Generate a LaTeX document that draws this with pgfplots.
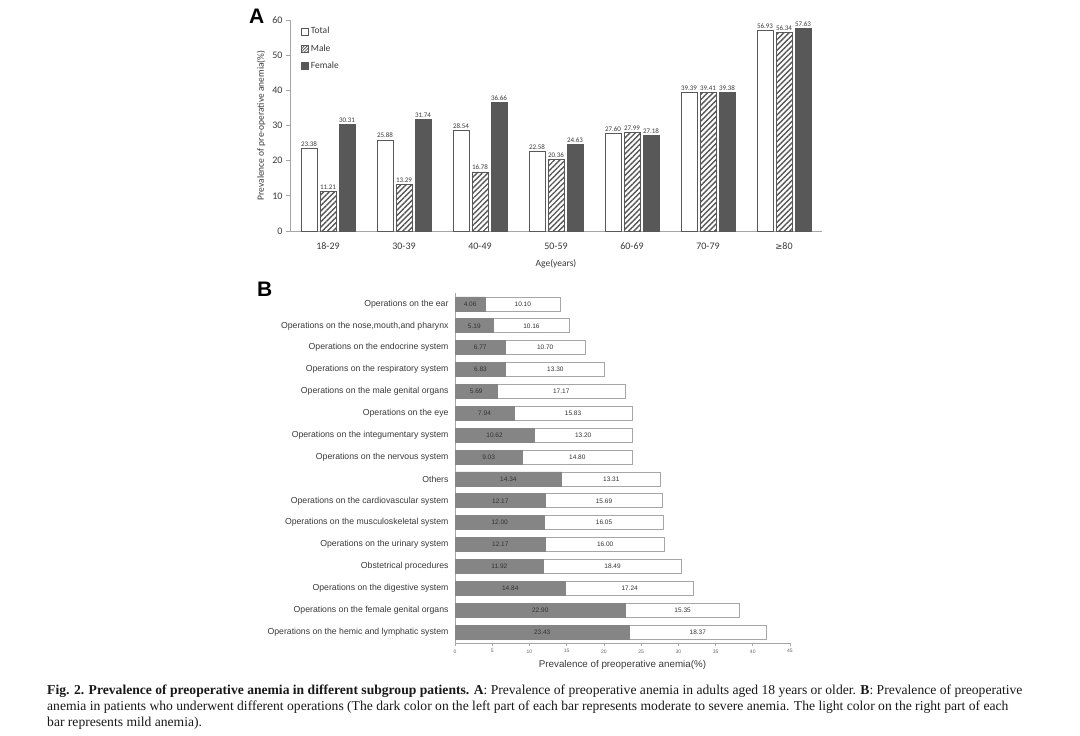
\documentclass[border=0pt]{standalone}
\usepackage{pgfplots}
\pgfplotsset{compat=1.18}
\usepackage{pgfplotstable}
\usetikzlibrary{patterns,patterns.meta}
\usepackage{fontspec}
\setmainfont{Liberation Sans}
\newfontfamily\carl{Carlito}
\newfontfamily\arialf{Liberation Sans}
\newfontfamily\dejavu{DejaVu Sans}
\newfontfamily\capfont{Liberation Serif}

\definecolor{dkA}{HTML}{585858}
\definecolor{dkB}{HTML}{858585}
\definecolor{axg}{HTML}{A6A6A6}
\definecolor{txt}{HTML}{3A3A3A}

\pgfplotstableread{
x total male female
0 23.38 11.21 30.31
1 25.88 13.29 31.74
2 28.54 16.78 36.66
3 22.58 20.36 24.63
4 27.60 27.99 27.18
5 39.39 39.41 39.38
6 56.93 56.34 57.63
}\dataA

\pgfplotstableread{
y d l
15 4.06 10.10
14 5.19 10.16
13 6.77 10.70
12 6.83 13.30
11 5.69 17.17
10 7.94 15.83
9 10.62 13.20
8 9.03 14.80
7 14.34 13.31
6 12.17 15.69
5 12.00 16.05
4 12.17 16.00
3 11.92 18.49
2 14.84 17.24
1 22.90 15.35
0 23.43 18.37
}\dataB

\begin{document}
\begin{tikzpicture}
\fill[white] (0,0) rectangle (1080pt,736pt);
\path[use as bounding box] (0,0) rectangle (1080pt,736pt);

% ---------------- Panel A ----------------
\begin{axis}[
  at={(290pt,505pt)}, anchor=south west,
  scale only axis, width=532pt, height=211pt,
  xmin=-0.5, xmax=6.5, ymin=0, ymax=60,
  ybar=3pt, bar width=16pt,
  axis x line*=bottom, axis y line*=left,
  axis line style={axg, line width=0.8pt},
  xtick={0,...,6},
  xticklabels={18-29,30-39,40-49,50-59,60-69,70-79,{{\dejavu\fontsize{8.5}{10}\selectfont ≥}80}},
  xtick style={draw=none},
  ytick={0,10,...,60},
  ytick style={axg, line width=0.8pt},
  tick align=outside, major tick length=4pt,
  /pgf/number format/assume math mode=true,
  ticklabel style={font=\carl\fontsize{10}{12}\selectfont, text=txt},
  xticklabel style={yshift=-4pt},
  xlabel={Age(years)},
  xlabel style={font=\carl\fontsize{9.5}{11}\selectfont, text=txt, yshift=-3pt},
  ylabel={Prevalence of pre-operative anemia(\%)},
  ylabel style={font=\carl\fontsize{9.5}{11}\selectfont, text=txt},
  nodes near coords={\pgfmathprintnumber[fixed,fixed zerofill,precision=2]{\pgfplotspointmeta}},
  every node near coord/.append style={font=\carl\fontsize{7}{8}\selectfont, text=txt, inner sep=1.5pt},
  legend style={draw=none, fill=none, at={(0.015,0.985)}, anchor=north west,
    font=\carl\fontsize{9.5}{11}\selectfont, text=txt, row sep=5pt,
    cells={anchor=west}},
  clip=false,
]
\addplot[fill=white, draw=dkA, line width=0.9pt,
  legend image code/.code={\draw[fill=white, draw=dkA, line width=0.7pt] (0pt,-3.5pt) rectangle (7pt,3.5pt);}]
  table[x=x, y=total]{\dataA};
\addplot[pattern={Lines[angle=45,distance=3.8pt,line width=1.4pt]}, pattern color=dkA, draw=dkA, line width=0.9pt,
  legend image code/.code={\draw[pattern={Lines[angle=45,distance=2.2pt,line width=0.8pt]}, pattern color=dkA, draw=dkA, line width=0.7pt] (0pt,-3.5pt) rectangle (7pt,3.5pt);}]
  table[x=x, y=male]{\dataA};
\addplot[fill=dkA, draw=dkA, line width=0.9pt,
  legend image code/.code={\draw[fill=dkA, draw=dkA, line width=0.7pt] (0pt,-3.5pt) rectangle (7pt,3.5pt);}]
  table[x=x, y=female]{\dataA};
\legend{Total,Male,Female}
\end{axis}

% ---------------- Panel B ----------------
\begin{axis}[
  at={(455pt,93pt)}, anchor=south west,
  scale only axis, width=335pt, height=350pt,
  xmin=0, xmax=45, ymin=-0.5, ymax=15.5,
  axis x line*=bottom, axis y line*=left,
  axis line style={axg, line width=0.8pt},
  xtick={0,5,...,45},
  xtick style={axg, line width=0.6pt},
  tick align=outside, major tick length=3pt,
  /pgf/number format/assume math mode=true,
  xticklabel style={font=\arialf\fontsize{5}{6}\selectfont, text=black!60},
  ytick={0,...,15},
  yticklabels={
    Operations on the hemic and lymphatic system,
    Operations on the female genital organs,
    Operations on the digestive system,
    Obstetrical procedures,
    Operations on the urinary system,
    Operations on the musculoskeletal system,
    Operations on the cardiovascular system,
    Others,
    Operations on the nervous system,
    Operations on the integumentary system,
    Operations on the eye,
    Operations on the male genital organs,
    Operations on the respiratory system,
    Operations on the endocrine system,
    {Operations on the nose,mouth,and pharynx},
    Operations on the ear},
  ytick style={draw=none},
  yticklabel style={font=\arialf\fontsize{8.7}{10}\selectfont, text=txt},
  xlabel={Prevalence of preoperative anemia(\%)},
  xlabel style={font=\arialf\fontsize{9.8}{11}\selectfont, text=txt},
  clip=false,
]
\addplot[xbar, bar width=14pt, bar shift=0pt, fill=white, draw=axg, line width=0.8pt]
  table[x expr=\thisrow{d}+\thisrow{l}, y=y]{\dataB};
\addplot[xbar, bar width=14pt, bar shift=0pt, fill=dkB, draw=dkB, line width=0.8pt]
  table[x=d, y=y]{\dataB};
\addplot[draw=none, mark=none, nodes near coords, point meta=explicit symbolic,
  every node near coord/.style={anchor=center, font=\arialf\fontsize{6.5}{7}\selectfont, text=black!80}]
  table[x expr=\thisrow{d}/2, y=y, meta=d]{\dataB};
\addplot[draw=none, mark=none, nodes near coords, point meta=explicit symbolic,
  every node near coord/.style={anchor=center, font=\arialf\fontsize{6.5}{7}\selectfont, text=black!80}]
  table[x expr=\thisrow{d}+\thisrow{l}/2, y=y, meta=l]{\dataB};
\end{axis}

% panel letters
\node[anchor=base west, inner sep=0, font=\arialf\bfseries\fontsize{21}{24}\selectfont] at (249pt,712pt) {A};
\node[anchor=base west, inner sep=0, font=\arialf\bfseries\fontsize{21}{24}\selectfont] at (257pt,439pt) {B};

% caption
\node[anchor=north west, align=left, inner sep=0, font=\capfont\fontsize{13.6}{16}\selectfont, text=black!90] at (47pt,51pt)
{\textbf{Fig. 2. Prevalence of preoperative anemia in different subgroup patients. A}: Prevalence of preoperative anemia in adults aged 18 years or older. \textbf{B}: Prevalence of preoperative\\
anemia in patients who underwent different operations (The dark color on the left part of each bar represents moderate to severe anemia. The light color on the right part of each\\
bar represents mild anemia).};
\end{tikzpicture}
\end{document}
